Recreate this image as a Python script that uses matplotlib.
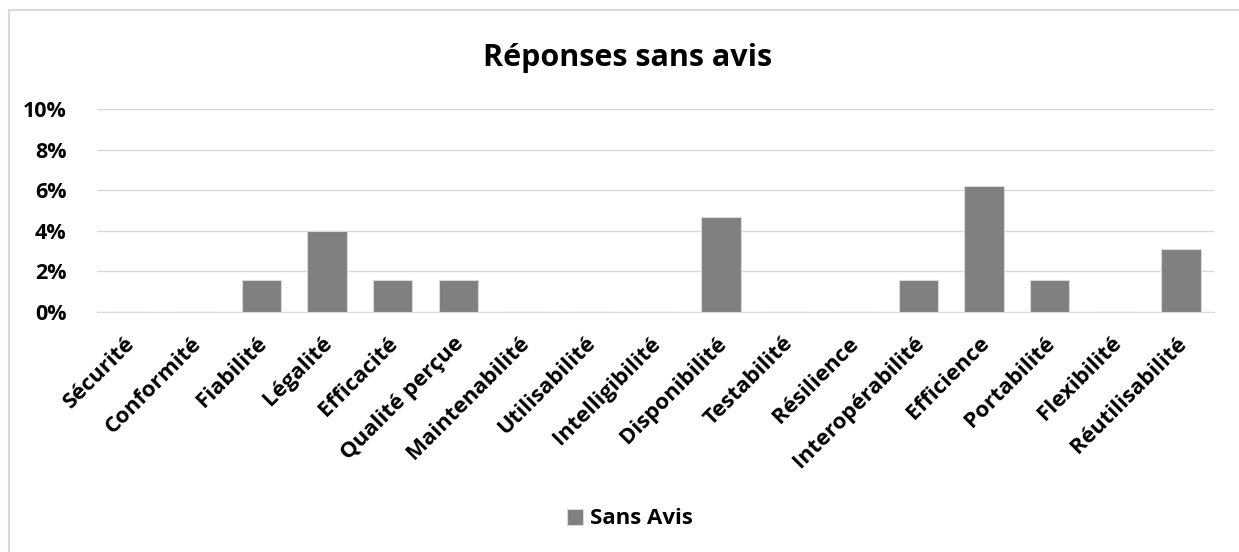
import matplotlib
matplotlib.use("Agg")
import matplotlib.pyplot as plt
import matplotlib.transforms as mtransforms
from matplotlib.ticker import FuncFormatter, MultipleLocator
from matplotlib.patches import Rectangle

categories = ["Sécurité", "Conformité", "Fiabilité", "Légalité", "Efficacité",
              "Qualité perçue", "Maintenabilité", "Utilisabilité", "Intelligibilité",
              "Disponibilité", "Testabilité", "Résilience", "Interopérabilité",
              "Efficience", "Portabilité", "Flexibilité", "Réutilisabilité"]
values = [0.0, 0.0, 1.6, 4.0, 1.6, 1.6, 0.0, 0.0, 0.0, 4.7, 0.0, 0.0, 1.6, 6.2, 1.6, 0.0, 3.1]
series_name = "Sans Avis"
title = "Réponses sans avis"

plt.rcParams['font.family'] = ['Open Sans', 'DejaVu Sans']
plt.rcParams['font.weight'] = 'bold'

W, H = 1239, 552
fig = plt.figure(figsize=(W/100, H/100), dpi=100)
ax = fig.add_axes([97/W, 1-312/H, (1214-97)/W, (312-109)/H])

x = list(range(len(categories)))
ax.bar(x, values, width=0.6, color="#808080", edgecolor="#d9d9d9", linewidth=0.8,
       label=series_name, zorder=3)
ax.set_xlim(-0.5, len(categories)-0.5)
ax.set_ylim(0, 10)
ax.yaxis.set_major_locator(MultipleLocator(2))
ax.yaxis.set_major_formatter(FuncFormatter(lambda v, p: f"{v:.0f}%"))
ax.grid(axis='y', color="#d9d9d9", linewidth=1, zorder=0)
for s in ['top', 'right', 'left']:
    ax.spines[s].set_visible(False)
ax.spines['bottom'].set_color("#d9d9d9")
ax.tick_params(axis='both', length=0)
ax.tick_params(axis='y', labelsize=15.5, pad=22)
ax.set_xticks(x)
ax.set_xticklabels(categories, rotation=45, ha='right', rotation_mode='anchor',
                   fontsize=16, fontweight='bold')
ax.tick_params(axis='x', pad=15)
offset = mtransforms.ScaledTranslation(-5/100, 0, fig.dpi_scale_trans)
for lab in ax.get_xticklabels():
    lab.set_transform(lab.get_transform() + offset)
for lab in ax.get_yticklabels():
    lab.set_fontweight('bold')

fig.text(628/W, 1-58/H, title, ha='center', va='center', fontsize=22, fontweight='bold')

fig.legend(loc='center', bbox_to_anchor=(630/W, 1-519/H), frameon=False,
           handlelength=0.7, handleheight=0.7, handletextpad=0.3,
           prop={'weight': 'bold', 'size': 16})

# chart border
fig.add_artist(Rectangle((9/W, -0.1), 1.2, 1 - 10/H + 0.1, transform=fig.transFigure,
                         fill=False, edgecolor="#d9d9d9", linewidth=1.5))

fig.savefig("out.png", dpi=100)
